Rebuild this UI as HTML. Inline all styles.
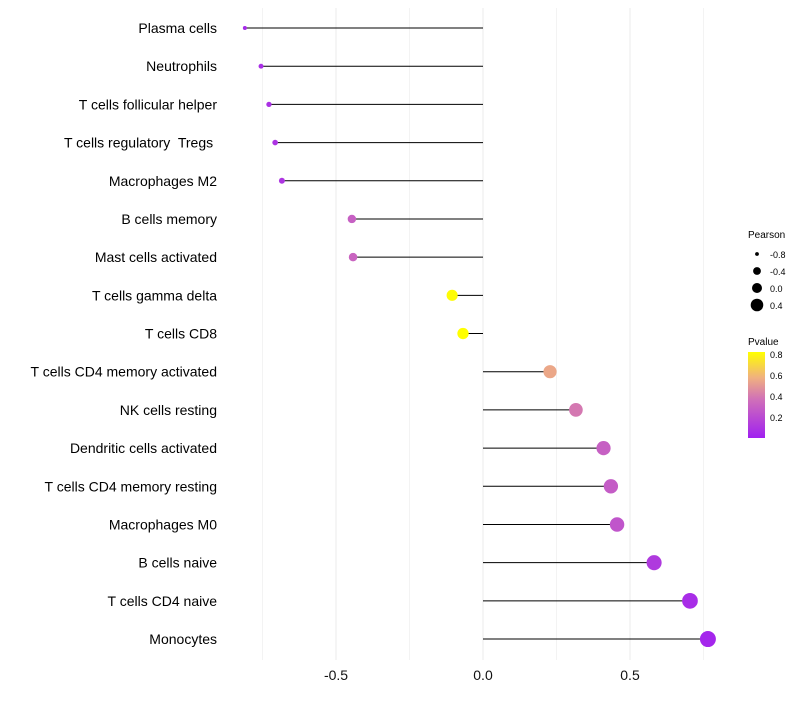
<!DOCTYPE html>
<html><head><meta charset="utf-8"><style>
body{margin:0;background:#fff;font-family:"Liberation Sans",sans-serif}
</style></head><body>
<svg id="c" width="800" height="700" xmlns="http://www.w3.org/2000/svg">
<defs><linearGradient id="pg" x1="0" y1="1" x2="0" y2="0">
<stop offset="0" stop-color="#a020f0"/><stop offset="0.45" stop-color="#d070b8"/><stop offset="0.7" stop-color="#f0b080"/><stop offset="1" stop-color="#ffff00"/></linearGradient></defs>
<g id="grid"></g><g id="marks"></g><g id="labels"></g>
<g font-size="10">
<text x="748" y="238" fill="#000">Pearson</text>
<circle cx="757" cy="254" r="1.9"/><text x="770" y="258" font-size="9">-0.8</text>
<circle cx="757" cy="271" r="3.9"/><text x="770" y="275" font-size="9">-0.4</text>
<circle cx="757" cy="288" r="5"/><text x="770" y="292" font-size="9">0.0</text>
<circle cx="757" cy="305" r="6.3"/><text x="770" y="309" font-size="9">0.4</text>
<text x="748" y="345">Pvalue</text>
<rect x="748" y="352" width="17" height="86" fill="url(#pg)"/>
<text x="770" y="358" font-size="9">0.8</text><text x="770" y="379" font-size="9">0.6</text>
<text x="770" y="400" font-size="9">0.4</text><text x="770" y="421" font-size="9">0.2</text>
</g>
</svg>
<script>
const categories=["Plasma cells","Neutrophils","T cells follicular helper","T cells regulatory  Tregs ","Macrophages M2","B cells memory","Mast cells activated","T cells gamma delta","T cells CD8","T cells CD4 memory activated","NK cells resting","Dendritic cells activated","T cells CD4 memory resting","Macrophages M0","B cells naive","T cells CD4 naive","Monocytes"];
const pearson=[-0.81,-0.755,-0.728,-0.707,-0.684,-0.446,-0.442,-0.105,-0.068,0.228,0.316,0.41,0.435,0.456,0.582,0.704,0.765];
const pvalue=[0.05,0.07,0.08,0.09,0.1,0.3,0.32,0.82,0.85,0.55,0.4,0.3,0.28,0.25,0.12,0.06,0.03];
const ticks=[-0.5,0,0.5];
const tickLabels=["-0.5","0.0","0.5"];
const minor=[-0.75,-0.25,0.25,0.75];
const X=v=>483+v*294, Y=i=>28+i*38.19, R=v=>Math.sqrt(Math.max(1,34.8+38*v));
const NS="http://www.w3.org/2000/svg";
function mk(t,a,p){const e=document.createElementNS(NS,t);for(const k in a)e.setAttribute(k,a[k]);p.appendChild(e);return e;}
function lerp(a,b,t){return a.map((x,i)=>Math.round(x+(b[i]-x)*t));}
function col(p){const s=[[0,[160,32,240]],[0.375,[208,112,184]],[0.58,[240,176,128]],[0.83,[255,255,0]]];p=Math.max(0,Math.min(0.83,p));
for(let i=0;i<s.length-1;i++)if(p<=s[i+1][0]){const c=lerp(s[i][1],s[i+1][1],(p-s[i][0])/(s[i+1][0]-s[i][0]));return `rgb(${c})`;}return "rgb(255,255,0)";}
const g=document.getElementById('grid'),m=document.getElementById('marks'),l=document.getElementById('labels');
minor.forEach(v=>{const e=mk('line',{x1:X(v),x2:X(v),y1:8,y2:660,stroke:'#f3f3f3','stroke-width':1},g);

});
ticks.forEach((v,i)=>{const e=mk('line',{x1:X(v),x2:X(v),y1:8,y2:660,stroke:'#ebebeb','stroke-width':1},g);


const t=mk('text',{x:X(v),y:680,'text-anchor':'middle','font-size':14,fill:'#111'},l);t.textContent=tickLabels[i];

});
categories.forEach((c,i)=>{
const ln=mk('line',{x1:X(0),x2:X(pearson[i]),y1:Y(i),y2:Y(i),stroke:'#000','stroke-width':1},m);


const ci=mk('circle',{cx:X(pearson[i]),cy:Y(i),r:R(pearson[i]),fill:col(pvalue[i])},m);


const t=mk('text',{x:217,y:Y(i)+5,'text-anchor':'end','font-size':14,fill:'#000'},l);t.textContent=c;


t.setAttribute('xml:space','preserve');t.style.whiteSpace='pre';});
</script>
</body></html>
